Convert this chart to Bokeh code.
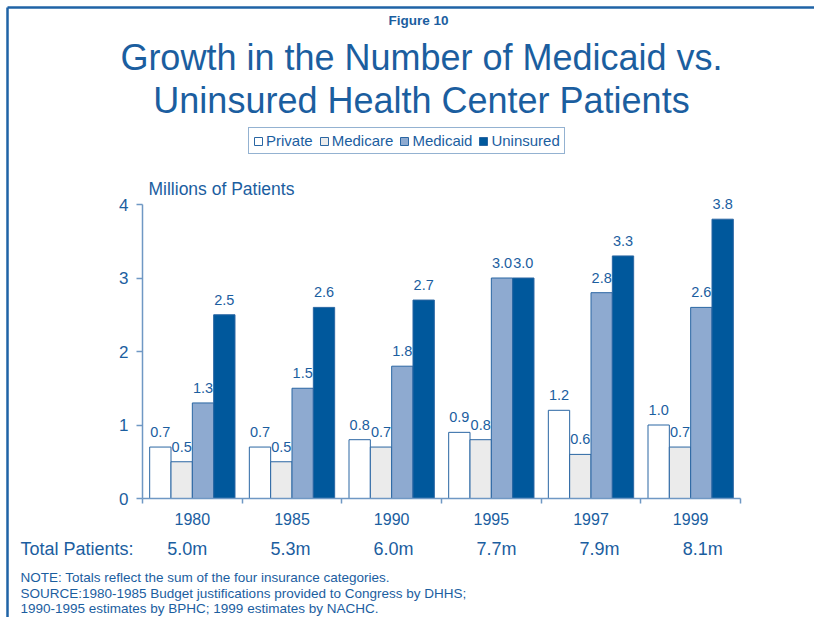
import pandas as pd
from bokeh.plotting import figure
from bokeh.models import (Range1d, ColumnDataSource, Label, LabelSet,
                          Legend, LegendItem, FixedTicker, LinearAxis)
from bokeh.core.properties import value
from bokeh.embed import file_html
from bokeh.resources import INLINE

# ---------------- data ----------------
years = ["1980", "1985", "1990", "1995", "1997", "1999"]
series = ["Private", "Medicare", "Medicaid", "Uninsured"]
private = [0.7, 0.7, 0.8, 0.9, 1.2, 1.0]
medicare = [0.5, 0.5, 0.7, 0.8, 0.6, 0.7]
medicaid = [1.3, 1.5, 1.8, 3.0, 2.8, 2.6]
uninsured = [2.5, 2.6, 2.7, 3.0, 3.3, 3.8]
totals = ["5.0m", "5.3m", "6.0m", "7.7m", "7.9m", "8.1m"]
y_ticks = [0, 1, 2, 3, 4]

# ---------------- styles / layout ----------------
FONT = "Liberation Sans"
BLUE = "#1b5e9f"
AXIS = "#6f98c4"
OUTLINE = "#2a66a3"
BORDER = "#1f63a6"
fills = ["#ffffff", "#ebebeb", "#8eaad0", "#00589c"]
BW = 0.214

W, H = 814, 617
X0, X1 = 142, 740          # pixel x of the category axis ends
Y0, Y4 = 498, 204          # pixel y of values 0 and 4
n = len(years)
ppc = (X1 - X0) / n
ppu = (Y0 - Y4) / 4.0

p = figure(width=W, height=H, output_backend="svg", toolbar_location=None,
           x_range=Range1d(-X0 / ppc, (W - X0) / ppc),
           y_range=Range1d((Y0 - H) / ppu, Y0 / ppu),
           x_axis_type=None, y_axis_type=None,
           min_border=0, min_border_left=0, min_border_right=0,
           min_border_top=0, min_border_bottom=0)
p.outline_line_color = None
p.grid.visible = False
p.background_fill_color = "white"
p.border_fill_color = "white"
p.extra_x_ranges = {"px": Range1d(0, W)}
p.extra_y_ranges = {"py": Range1d(H, 0)}

# ---------------- axes ----------------
xaxis = LinearAxis(
    fixed_location=0, bounds=(0, n),
    ticker=FixedTicker(ticks=[i + 0.5 for i in range(n)], minor_ticks=list(range(n + 1))),
    major_label_overrides={i + 0.5: y for i, y in enumerate(years)},
    axis_line_color=AXIS, axis_line_width=1.5,
    major_tick_line_color=None, major_tick_out=5, major_tick_in=0,
    minor_tick_line_color=AXIS, minor_tick_out=5, minor_tick_in=0, minor_tick_line_width=1.5,
    major_label_standoff=9,
    major_label_text_font=FONT, major_label_text_font_size="16px",
    major_label_text_color=BLUE)
p.add_layout(xaxis, "below")

yaxis = LinearAxis(
    fixed_location=0, bounds=(0, 4),
    ticker=FixedTicker(ticks=y_ticks),
    axis_line_color=AXIS, axis_line_width=1.5,
    major_tick_line_color=AXIS, major_tick_out=6, major_tick_in=0, major_tick_line_width=1.5,
    minor_tick_line_color=None,
    major_label_standoff=8,
    major_label_text_font=FONT, major_label_text_font_size="17px",
    major_label_text_color=BLUE)
p.add_layout(yaxis, "left")

# ---------------- bars ----------------
cols = [private, medicare, medicaid, uninsured]
items = []
for k, (name, vals, fc) in enumerate(zip(series, cols, fills)):
    df = pd.DataFrame({"year": years, "top": vals})
    df["x"] = [i + 0.5 + (k - 1.5) * BW for i in range(n)]
    df["lab"] = [f"{v:.1f}" for v in vals]
    src = ColumnDataSource(df)
    r = p.vbar(x="x", top="top", bottom=0, width=BW, source=src,
               fill_color=fc, line_color=OUTLINE, line_width=1)
    items.append(LegendItem(label=name, renderers=[r]))
    p.add_layout(LabelSet(x="x", y="top", text="lab", source=src,
                          text_align="center", text_baseline="alphabetic",
                          y_offset=10, text_font=value(FONT),
                          text_font_size=value("14.5px"), text_color=BLUE))

legend = Legend(items=items, orientation="horizontal", location=(248, H - 154),
                glyph_width=10, glyph_height=10, label_standoff=3, spacing=6,
                padding=4, margin=0, label_height=14,
                label_text_font=FONT, label_text_font_size="15px",
                label_text_color=BLUE, border_line_color=OUTLINE,
                border_line_width=1, background_fill_color="white",
                background_fill_alpha=1)
p.add_layout(legend)

# ---------------- texts (pixel positions = text centre lines) ----------------
def page_label(x, y, text, size, align="left", bold=False):
    p.add_layout(Label(x=x, y=y, text=text, x_range_name="px", y_range_name="py",
                       text_align=align, text_baseline="middle",
                       text_font=FONT, text_font_size=size,
                       text_font_style="bold" if bold else "normal",
                       text_color=BLUE))

page_label(418, 20, "Figure 10", "13.5px", align="center", bold=True)
page_label(421, 57, "Growth in the Number of Medicaid vs.", "36px", align="center")
page_label(421, 100, "Uninsured Health Center Patients", "36px", align="center")
page_label(148, 188.5, "Millions of Patients", "17.5px")
page_label(20, 548, "Total Patients:", "18px")

tsrc = ColumnDataSource(dict(x=[i + 0.5 for i in range(n)], lab=totals,
                             dx=[-5 + 3.4 * i for i in range(n)]))
p.add_layout(LabelSet(x="x", y=548, text="lab", source=tsrc, x_offset="dx",
                      y_range_name="py", text_align="center", text_baseline="middle",
                      text_font=value(FONT), text_font_size=value("18px"), text_color=BLUE))

page_label(20, 576.5, "NOTE: Totals reflect the sum of the four insurance categories.", "13.5px")
page_label(20, 592.5, "SOURCE:1980-1985 Budget justifications provided to Congress by DHHS;", "13.5px")
page_label(20, 607.5, "1990-1995 estimates by BPHC; 1999 estimates by NACHC.", "13.5px")

# slide frame: top and left edges
p.segment(x0=[7, 7], y0=[7, 7], x1=[W, 7], y1=[7, H],
          x_range_name="px", y_range_name="py",
          line_color=BORDER, line_width=2.5)

open("out.html", "w").write(file_html(p, INLINE))
